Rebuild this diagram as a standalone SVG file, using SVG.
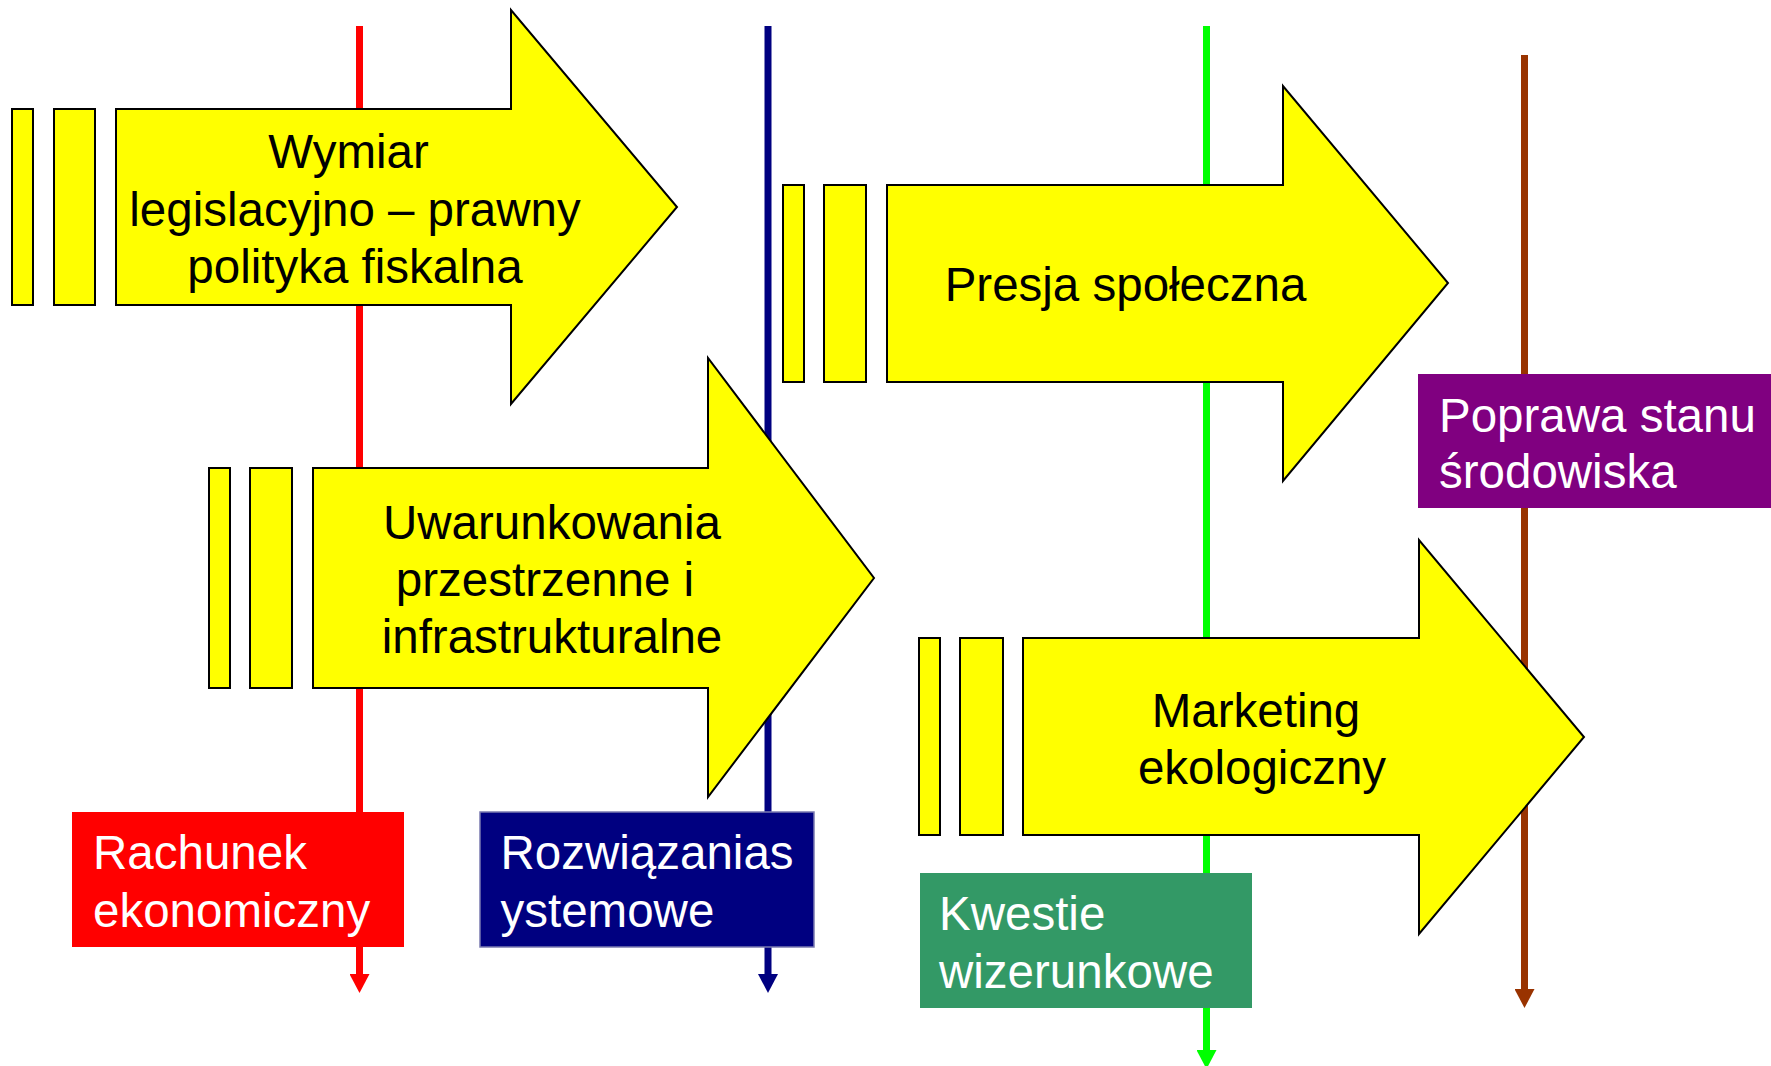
<svg xmlns="http://www.w3.org/2000/svg" width="1771" height="1066" viewBox="0 0 1771 1066">
<style>
.arrow{fill:#FFFF00;stroke:#000;stroke-width:2;stroke-linejoin:miter}
.t{font-family:"Liberation Sans",Arial,sans-serif;font-size:47.5px}
.dark{fill:#000;text-anchor:middle}
.light{fill:#fff}
.conn{stroke-width:7;fill:none}
</style>
<defs>
<marker id="mRed" markerUnits="userSpaceOnUse" viewBox="0 -10 19 20" markerWidth="19" markerHeight="20" refX="0" refY="0" orient="auto"><path d="M0,-10 L19,0 L0,10 z" fill="#FF0000"/></marker>
<marker id="mNavy" markerUnits="userSpaceOnUse" viewBox="0 -10 19 20" markerWidth="19" markerHeight="20" refX="0" refY="0" orient="auto"><path d="M0,-10 L19,0 L0,10 z" fill="#000080"/></marker>
<marker id="mGreen" markerUnits="userSpaceOnUse" viewBox="0 -10 19 20" markerWidth="19" markerHeight="20" refX="0" refY="0" orient="auto"><path d="M0,-10 L19,0 L0,10 z" fill="#00FF00"/></marker>
<marker id="mBrown" markerUnits="userSpaceOnUse" viewBox="0 -10 19 20" markerWidth="19" markerHeight="20" refX="0" refY="0" orient="auto"><path d="M0,-10 L19,0 L0,10 z" fill="#993300"/></marker>
</defs>
<rect width="1771" height="1066" fill="#fff"/>
<g id="connectors">
<line class="conn" x1="359.5" y1="26" x2="359.5" y2="974" stroke="#FF0000" marker-end="url(#mRed)"/>
<line class="conn" x1="768" y1="26" x2="768" y2="974" stroke="#000080" marker-end="url(#mNavy)"/>
<line class="conn" x1="1206.5" y1="26" x2="1206.5" y2="1050" stroke="#00FF00" marker-end="url(#mGreen)"/>
<line class="conn" x1="1524.5" y1="55" x2="1524.5" y2="989" stroke="#993300" marker-end="url(#mBrown)"/>
</g>
<g id="rachunek">
<rect x="72" y="812" width="332" height="135" fill="#FF0000"/>
<text class="t light"><tspan x="93" y="869">Rachunek</tspan><tspan x="93" y="927">ekonomiczny</tspan></text>
</g>
<g id="rozwiazania">
<rect x="480" y="812" width="334" height="135" fill="#000080" stroke="#7a7ab0" stroke-width="1.5"/>
<text class="t light"><tspan x="500.5" y="869">Rozwiązanias</tspan><tspan x="500.5" y="927">ystemowe</tspan></text>
</g>
<g id="kwestie">
<rect x="920" y="873" width="332" height="135" fill="#339966"/>
<text class="t light"><tspan x="939" y="930">Kwestie</tspan><tspan x="939" y="988">wizerunkowe</tspan></text>
</g>
<g id="poprawa">
<rect x="1418" y="374" width="353" height="134" fill="#800080"/>
<text class="t light"><tspan x="1439" y="432">Poprawa stanu</tspan><tspan x="1439" y="488">środowiska</tspan></text>
</g>
<g id="wymiar">
<rect class="arrow" x="12" y="109" width="21" height="196"/>
<rect class="arrow" x="54" y="109" width="41" height="196"/>
<polygon class="arrow" points="116,109 511,109 511,10 677,207 511,404 511,305 116,305"/>
<text class="t dark"><tspan x="348.5" y="168">Wymiar</tspan><tspan x="355" y="226">legislacyjno – prawny</tspan><tspan x="355" y="283">polityka fiskalna</tspan></text>
</g>
<g id="presja">
<rect class="arrow" x="783" y="185" width="21" height="197"/>
<rect class="arrow" x="824" y="185" width="42" height="197"/>
<polygon class="arrow" points="887,185 1283,185 1283,86 1448,283 1283,481 1283,382 887,382"/>
<text class="t dark" x="1125.5" y="301">Presja społeczna</text>
</g>
<g id="uwarunkowania">
<rect class="arrow" x="209" y="468" width="21" height="220"/>
<rect class="arrow" x="250" y="468" width="42" height="220"/>
<polygon class="arrow" points="313,468 708,468 708,358 874,578 708,797 708,688 313,688"/>
<text class="t dark"><tspan x="552" y="539">Uwarunkowania</tspan><tspan x="545" y="596">przestrzenne i</tspan><tspan x="552" y="653">infrastrukturalne</tspan></text>
</g>
<g id="marketing">
<rect class="arrow" x="919" y="638" width="21" height="197"/>
<rect class="arrow" x="960" y="638" width="43" height="197"/>
<polygon class="arrow" points="1023,638 1419,638 1419,540 1584,737 1419,934 1419,835 1023,835"/>
<text class="t dark"><tspan x="1256" y="727">Marketing</tspan><tspan x="1262" y="784">ekologiczny</tspan></text>
</g>
</svg>
